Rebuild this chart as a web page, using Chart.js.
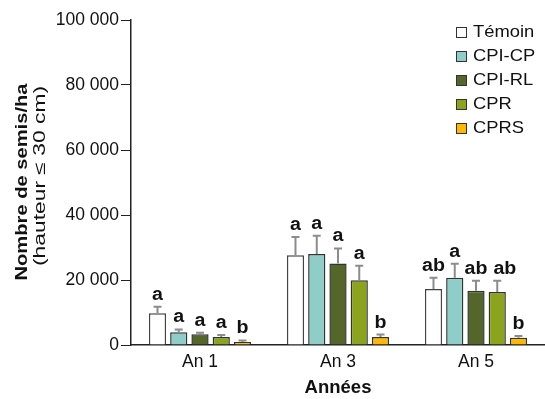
<!DOCTYPE html>
<html>
<head>
<meta charset="utf-8">
<script src="https://cdn.jsdelivr.net/npm/chart.js@4"></script>
<style>
  html, body { margin: 0; padding: 0; background: #fff; }
  #wrap { width: 545px; height: 399px; }
</style>
</head>
<body>
<div id="wrap"><canvas id="graphe" width="545" height="399"></canvas></div>
<script>
// données
const annees = ['An 1', 'An 3', 'An 5'];
const traitements = ['Témoin', 'CPI-CP', 'CPI-RL', 'CPR', 'CPRS'];

const temoin = [9800, 27600, 17200];
const cpiCp = [3900, 28000, 20700];
const cpiRl = [3300, 25100, 16700];
const cpr = [2500, 19900, 16300];
const cprs = [900, 2500, 2200];

const errTemoin = [2000, 5600, 3500];
const errCpiCp = [900, 5600, 4300];
const errCpiRl = [500, 4600, 3100];
const errCpr = [600, 4500, 3500];
const errCprs = [500, 700, 600];

const lettresTemoin = ['a', 'a', 'ab'];
const lettresCpiCp = ['a', 'a', 'a'];
const lettresCpiRl = ['a', 'a', 'ab'];
const lettresCpr = ['a', 'a', 'ab'];
const lettresCprs = ['b', 'b', 'b'];

const yTicks = [0, 20000, 40000, 60000, 80000, 100000];

const couleurs = ['#ffffff', '#8ecdc8', '#55662a', '#8ca41d', '#ffb800'];
const bordures = ['#444444', '#333333', '#333333', '#333333', '#333333'];

const valeurs = [temoin, cpiCp, cpiRl, cpr, cprs];
const erreurs = [errTemoin, errCpiCp, errCpiRl, errCpr, errCprs];
const lettres = [lettresTemoin, lettresCpiCp, lettresCpiRl, lettresCpr, lettresCprs];

const police = '"Liberation Sans", Arial, sans-serif';

function formatNombre(v) {
  return String(v).replace(/\B(?=(\d{3})+(?!\d))/g, ' ');
}

// texte étiré dans le sens de la lecture, comme sur la figure d'origine
function texteEtire(ctx, txt, x, y, angle, etirement) {
  ctx.save();
  ctx.translate(x, y);
  ctx.rotate(angle);
  ctx.scale(etirement, 1);
  ctx.fillText(txt, 0, 0);
  ctx.restore();
}

const errorBars = {
  id: 'errorBars',
  afterDatasetsDraw(chart) {
    const ctx = chart.ctx;
    const y = chart.scales.y;
    const etir = 1.12;
    ctx.save();
    ctx.font = 'bold 17.5px ' + police;
    ctx.textAlign = 'center';
    ctx.textBaseline = 'alphabetic';
    const nSeries = chart.data.datasets.length;
    const nCat = chart.data.labels.length;
    for (let j = 0; j < nCat; j++) {
      let prec = null;
      for (let i = 0; i < nSeries; i++) {
        const ds = chart.data.datasets[i];
        const bar = chart.getDatasetMeta(i).data[j];
        const top = y.getPixelForValue(ds.data[j] + ds.erreur[j]);
        ctx.strokeStyle = '#8c8c8c';
        ctx.lineWidth = 2;
        ctx.beginPath();
        ctx.moveTo(bar.x, bar.y);
        ctx.lineTo(bar.x, top);
        ctx.moveTo(bar.x - 4, top);
        ctx.lineTo(bar.x + 4, top);
        ctx.stroke();

        // lettre, décalée à droite si elle chevauche la précédente
        const txt = ds.lettres[j];
        const w = ctx.measureText(txt).width * etir;
        let cx = bar.x;
        const base = top - 7;
        const boite = { l: cx - w / 2, r: cx + w / 2, t: base - 13, b: base };
        if (prec && boite.l < prec.r + 6 && boite.t < prec.b && boite.b > prec.t) {
          const dx = prec.r + 6 - boite.l;
          cx += dx; boite.l += dx; boite.r += dx;
        }
        ctx.fillStyle = '#111';
        texteEtire(ctx, txt, cx, base, 0, etir);
        prec = boite;
      }
    }
    ctx.restore();
  }
};

const decor = {
  id: 'decor',
  afterDraw(chart) {
    const ctx = chart.ctx;
    ctx.save();
    ctx.fillStyle = '#111';
    ctx.textAlign = 'center';
    ctx.textBaseline = 'middle';
    // titre de l'axe y, sur deux lignes
    ctx.font = 'bold 17px ' + police;
    let t = 'Nombre de semis/ha';
    texteEtire(ctx, t, 22.5, 182, -Math.PI / 2, 197 / ctx.measureText(t).width);
    ctx.font = '16px ' + police;
    t = '(hauteur \u2264 30 cm)';
    texteEtire(ctx, t, 41, 176, -Math.PI / 2, 180 / ctx.measureText(t).width);

    // légende
    chart.data.datasets.forEach((ds, i) => {
      const yy = 32 + i * 24;
      ctx.fillStyle = ds.backgroundColor;
      ctx.fillRect(456, yy - 5, 10, 10);
      ctx.strokeStyle = '#333';
      ctx.lineWidth = 1;
      ctx.strokeRect(456.5, yy - 4.5, 10, 10);
      ctx.fillStyle = '#111';
      ctx.font = '17px ' + police;
      ctx.textAlign = 'left';
      texteEtire(ctx, ds.label, 473, yy, 0, 1.08);
    });
    ctx.restore();
  }
};

const ctx = document.getElementById('graphe').getContext('2d');

new Chart(ctx, {
  type: 'bar',
  data: {
    labels: annees,
    datasets: traitements.map((nom, i) => ({
      label: nom,
      data: valeurs[i],
      erreur: erreurs[i],
      lettres: lettres[i],
      backgroundColor: couleurs[i],
      borderColor: bordures[i],
      borderWidth: 1.5,
      categoryPercentage: 0.77,
      barPercentage: 0.81
    }))
  },
  options: {
    responsive: false,
    animation: false,
    layout: { padding: { top: 20, right: 0, bottom: 0, left: 0 } },
    plugins: {
      legend: { display: false },
      tooltip: { enabled: false }
    },
    scales: {
      x: {
        grid: { display: false, drawTicks: false },
        border: { display: true, color: '#222', width: 1.5 },
        ticks: {
          color: '#111',
          padding: 7,
          font: { size: 17.5, family: police }
        },
        title: {
          display: true,
          text: 'Années',
          color: '#111',
          padding: { top: 0, bottom: 0 },
          font: { size: 18.5, weight: 'bold', family: police }
        },
        afterFit(scale) { scale.height = 54; }
      },
      y: {
        min: 0,
        max: 100000,
        grid: {
          drawOnChartArea: false,
          drawTicks: true,
          tickLength: 10,
          color: '#222'
        },
        border: { display: true, color: '#222', width: 1.5 },
        afterBuildTicks(scale) {
          scale.ticks = yTicks.map(v => ({ value: v }));
        },
        ticks: {
          color: '#111',
          padding: 2,
          font: { size: 17.5, family: police },
          callback: v => formatNombre(v)
        },
        afterFit(scale) { scale.width = 131; }
      }
    }
  },
  plugins: [errorBars, decor]
});
</script>
</body>
</html>
